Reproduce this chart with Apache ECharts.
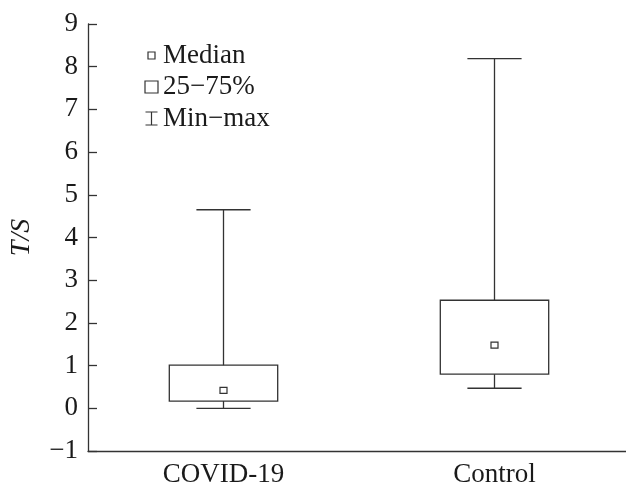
<!DOCTYPE html>
<html style="height: 100%">
<head>
<meta charset="utf-8">
</head>
<body style="height: 100%; margin: 0">
<div id="container" style="width: 626px; height: 485px"></div>
<script type="text/javascript" src="https://cdn.jsdelivr.net/npm/echarts@6/dist/echarts.min.js"></script>
<script type="text/javascript">
// values
var categories = ['COVID-19', 'Control'];
var minVals = [0.00, 0.47];
var q1Vals = [0.17, 0.80];
var medianVals = [0.42, 1.48];
var q3Vals = [1.01, 2.53];
var maxVals = [4.65, 8.19];
var yTicks = [-1, 0, 1, 2, 3, 4, 5, 6, 7, 8, 9];

var rows = categories.map(function (c, i) {
    return [i, minVals[i], q1Vals[i], medianVals[i], q3Vals[i], maxVals[i]];
});

var ink = '#333';
var txt = '#1a1a1a';
var serif = 'Liberation Serif';
var fs = 27;

var myChart = echarts.init(document.getElementById('container'));

function whisker(params, api) {
    var x = api.value(0);
    var bw = api.size([1, 0])[0];
    var lo = api.coord([x, api.value(1)]);
    var hi = api.coord([x, api.value(5)]);
    var half = bw * 0.1;
    var st = { stroke: ink, lineWidth: 1.3 };
    return {
        type: 'group',
        children: [
            { type: 'line', shape: { x1: lo[0], y1: lo[1], x2: hi[0], y2: hi[1] }, style: st },
            { type: 'line', shape: { x1: lo[0] - half, y1: lo[1], x2: lo[0] + half, y2: lo[1] }, style: st },
            { type: 'line', shape: { x1: hi[0] - half, y1: hi[1], x2: hi[0] + half, y2: hi[1] }, style: st }
        ]
    };
}

function box(params, api) {
    var x = api.value(0);
    var bw = api.size([1, 0])[0] * 0.4;
    var lo = api.coord([x, api.value(2)]);
    var hi = api.coord([x, api.value(4)]);
    return {
        type: 'rect',
        shape: { x: lo[0] - bw / 2, y: hi[1], width: bw, height: lo[1] - hi[1] },
        style: { fill: '#fff', stroke: ink, lineWidth: 1.3 }
    };
}

function median(params, api) {
    var p = api.coord([api.value(0), api.value(3)]);
    return {
        type: 'rect',
        shape: { x: p[0] - 3.5, y: p[1] - 3, width: 7, height: 6 },
        style: { fill: '#fff', stroke: ink, lineWidth: 1.2 }
    };
}

option = {
    backgroundColor: '#fff',
    animation: false,
    grid: { left: 88, top: 24, width: 542, height: 427, outerBoundsMode: 'none' },
    legend: {
        orient: 'vertical',
        left: 138,
        top: 37,
        itemWidth: 13,
        itemHeight: 13,
        itemGap: 4.5,
        selectedMode: false,
        textStyle: { fontFamily: serif, fontSize: fs, color: txt },
        data: [
            { name: 'Median', icon: 'path://M0,0M3,3h7v7h-7zM13,13',
              itemStyle: { color: '#fff', borderColor: ink, borderWidth: 1.2 } },
            { name: '25−75%', icon: 'path://M0,0h13v12h-13z',
              itemStyle: { color: '#fff', borderColor: ink, borderWidth: 1.2 } },
            { name: 'Min−max', icon: 'path://M0,0h12M6,0v13M0,13h12',
              itemStyle: { color: 'none', borderColor: ink, borderWidth: 1.2 } }
        ]
    },
    xAxis: {
        type: 'category',
        data: categories,
        axisLine: { onZero: false, lineStyle: { color: ink, width: 1.3 } },
        axisTick: { inside: true, length: 9, alignWithLabel: true, lineStyle: { color: ink, width: 1.3 } },
        axisLabel: { margin: 10, fontFamily: serif, fontSize: fs, color: txt },
        splitLine: { show: false }
    },
    yAxis: {
        type: 'value',
        min: yTicks[0],
        max: yTicks[yTicks.length - 1],
        interval: 1,
        name: 'T/S',
        nameLocation: 'middle',
        nameGap: 52,
        nameTextStyle: { fontFamily: serif, fontSize: 28, fontStyle: 'italic', color: txt },
        axisLine: { show: true, lineStyle: { color: ink, width: 1.3 } },
        axisTick: { show: true, inside: true, length: 9, lineStyle: { color: ink, width: 1.3 } },
        axisLabel: {
            margin: 10, fontFamily: serif, fontSize: fs, color: txt,
            formatter: function (v) { return String(v).replace('-', '\u2212'); }
        },
        splitLine: { show: false }
    },
    series: [
        { name: 'Min−max', type: 'custom', renderItem: whisker, data: rows,
          encode: { x: 0, y: [1, 5] }, itemStyle: { color: 'none', borderColor: ink } },
        { name: '25−75%', type: 'custom', renderItem: box, data: rows,
          encode: { x: 0, y: [2, 4] }, itemStyle: { color: '#fff', borderColor: ink } },
        { name: 'Median', type: 'custom', renderItem: median, data: rows,
          encode: { x: 0, y: 3 }, itemStyle: { color: '#fff', borderColor: ink } }
    ]
};

myChart.setOption(option, true);
</script>
</body>
</html>
